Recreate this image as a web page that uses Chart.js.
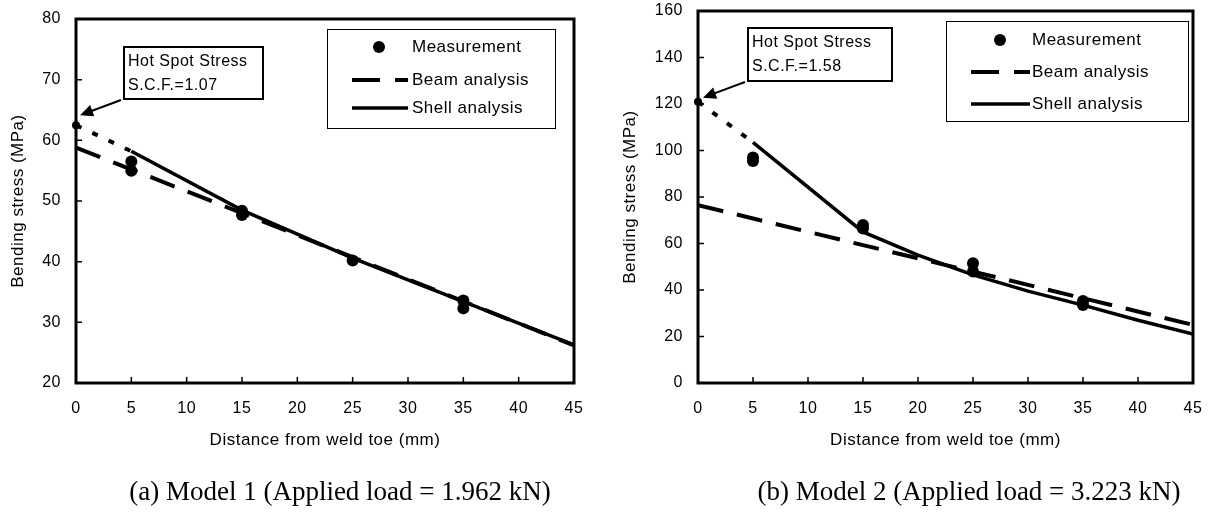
<!DOCTYPE html>
<html>
<head>
<meta charset="utf-8">
<script src="https://cdn.jsdelivr.net/npm/chart.js@4"></script>
<style>
  body { margin: 0; background: #fff; }
  #wrap { position: relative; width: 1210px; height: 515px; }
  .panel { position: absolute; top: 0; width: 605px; height: 515px; }
  .caption {
    position: absolute; top: 476px; white-space: nowrap;
    font-family: "Liberation Serif", serif; font-size: 27px; color: #000;
    transform: translateX(-50%);
  }
</style>
</head>
<body>
<div id="wrap">
  <div class="panel" style="left:0"><canvas id="chartA" width="605" height="515"></canvas></div>
  <div class="panel" style="left:605px"><canvas id="chartB" width="605" height="515"></canvas></div>
  <div class="caption" style="left:340px">(a) Model 1 (Applied load = 1.962 kN)</div>
  <div class="caption" style="left:969px">(b) Model 2 (Applied load = 3.223 kN)</div>
</div>
<script>
// Model 1
const distMeasA = [5, 5, 15, 15, 25, 35, 35];
const stressMeasA = [56.5, 55.0, 48.4, 47.7, 40.2, 33.6, 32.3];
const distBeamA = [0, 15, 30, 45];
const stressBeamA = [58.8, 48.0, 37.1, 26.2];
const distShellA = [5, 15, 25, 35, 45];
const stressShellA = [58.2, 48.5, 40.6, 33.4, 26.3];
const distHotA = [0, 5];
const stressHotA = [62.5, 58.2];

// Model 2
const distMeasB = [5, 5, 15, 15, 25, 25, 35, 35];
const stressMeasB = [97.0, 95.5, 68.0, 66.5, 51.5, 48.0, 35.3, 33.5];
const distBeamB = [0, 15, 30, 45];
const stressBeamB = [76.5, 59.3, 42.2, 25.0];
const distShellB = [5, 15, 20, 25, 30, 35, 40, 45];
const stressShellB = [103.5, 65.0, 55.0, 46.5, 39.5, 33.5, 27.0, 21.0];
const distHotB = [0, 5];
const stressHotB = [121, 103.5];

const legendLabels = ["Measurement", "Beam analysis", "Shell analysis"];
const FONT = '"Liberation Sans", Arial, sans-serif';

function pts(xs, ys) {
  return xs.map((x, i) => ({ x: x, y: ys[i] }));
}

// slightly loose lettering like the original
const spacingPlugin = {
  id: "spacing",
  beforeUpdate(chart) { chart.ctx.letterSpacing = "0.5px"; },
  beforeDraw(chart) { chart.ctx.letterSpacing = "0.5px"; },
};

// frame + inward tick marks
const framePlugin = {
  id: "frame",
  afterDatasetsDraw(chart) {
    const { ctx, chartArea: a, scales: { x, y } } = chart;
    ctx.save();
    ctx.strokeStyle = "#000";
    ctx.lineWidth = 1.5;
    ctx.beginPath();
    x.ticks.forEach((t) => {
      const px = x.getPixelForValue(t.value);
      ctx.moveTo(px, a.bottom);
      ctx.lineTo(px, a.bottom - 6);
    });
    y.ticks.forEach((t) => {
      const py = y.getPixelForValue(t.value);
      ctx.moveTo(a.left, py);
      ctx.lineTo(a.left + 6, py);
    });
    ctx.stroke();
    ctx.lineWidth = 3;
    ctx.strokeRect(a.left, a.top, a.right - a.left, a.bottom - a.top);
    ctx.restore();
  },
};

// legend box and hot spot note
const overlayPlugin = {
  id: "overlay",
  afterDraw(chart, args, o) {
    const { ctx, scales: { x, y } } = chart;
    ctx.save();
    ctx.fillStyle = "#000";
    ctx.strokeStyle = "#000";
    ctx.textBaseline = "middle";

    // legend
    const L = o.legend;
    ctx.font = "17px " + FONT;
    ctx.lineWidth = 1;
    ctx.strokeRect(L.x + 0.5, L.y + 0.5, L.w, L.h);
    ctx.beginPath();
    ctx.arc(L.dotX, L.rows[0], 6, 0, Math.PI * 2);
    ctx.fill();
    ctx.lineWidth = 4;
    ctx.setLineDash([28, 15]);
    ctx.beginPath();
    ctx.moveTo(L.lineX0, L.rows[1]);
    ctx.lineTo(L.lineX1, L.rows[1]);
    ctx.stroke();
    ctx.setLineDash([]);
    ctx.lineWidth = 3.5;
    ctx.beginPath();
    ctx.moveTo(L.lineX0, L.rows[2]);
    ctx.lineTo(L.lineX1, L.rows[2]);
    ctx.stroke();
    legendLabels.forEach((t, i) => ctx.fillText(t, L.textX, L.rows[i]));

    // note box
    const N = o.note;
    ctx.font = "16px " + FONT;
    ctx.lineWidth = 2;
    ctx.strokeRect(N.x, N.y, N.w, N.h);
    ctx.fillText("Hot Spot Stress", N.x + 4, N.y + 15);
    ctx.fillText(N.text, N.x + 4, N.y + 39);

    // arrow to the hot spot value
    const hx = x.getPixelForValue(0) + N.tipDx;
    const hy = y.getPixelForValue(N.hot) + N.tipDy;
    const sx = N.x - 3, sy = N.y + N.h + 1;
    const ang = Math.atan2(hy - sy, hx - sx);
    ctx.lineWidth = 2;
    ctx.beginPath();
    ctx.moveTo(sx, sy);
    ctx.lineTo(hx - 10 * Math.cos(ang), hy - 10 * Math.sin(ang));
    ctx.stroke();
    ctx.beginPath();
    ctx.moveTo(hx, hy);
    ctx.lineTo(hx - 13 * Math.cos(ang) + 6 * Math.sin(ang), hy - 13 * Math.sin(ang) - 6 * Math.cos(ang));
    ctx.lineTo(hx - 13 * Math.cos(ang) - 6 * Math.sin(ang), hy - 13 * Math.sin(ang) + 6 * Math.cos(ang));
    ctx.closePath();
    ctx.fill();
    ctx.restore();
  },
};

function noPad(s) {
  s.paddingTop = 0;
  s.paddingBottom = 0;
  s.paddingLeft = 0;
  s.paddingRight = 0;
}

function makeChart(canvasId, d, yMin, yMax, yStep, area, overlay) {
  const tickFont = { family: FONT, size: 16 };
  const titleFont = { family: FONT, size: 17 };
  const config = {
    type: "scatter",
    data: {
      datasets: [
        {
          label: legendLabels[0],
          data: pts(d.measX, d.measY),
          pointRadius: 6,
          pointBackgroundColor: "#000",
          pointBorderWidth: 0,
          showLine: false,
          clip: false,
        },
        {
          label: "extrapolation",
          data: pts(d.hotX, d.hotY),
          showLine: true,
          borderColor: "#000",
          borderWidth: 4,
          borderDash: [6, 12],
          pointRadius: [4, 0],
          pointBackgroundColor: "#000",
          pointBorderWidth: 0,
          clip: false,
        },
        {
          label: legendLabels[2],
          data: pts(d.shellX, d.shellY),
          showLine: true,
          borderColor: "#000",
          borderWidth: 3.5,
          pointRadius: 0,
        },
        {
          label: legendLabels[1],
          data: pts(d.beamX, d.beamY),
          showLine: true,
          borderColor: "#000",
          borderWidth: 4,
          borderDash: [26, 14],
          pointRadius: 0,
        },
      ],
    },
    options: {
      responsive: false,
      animation: false,
      events: [],
      layout: { padding: { left: 0, right: 605 - area.right, top: area.top, bottom: 0 } },
      plugins: { legend: false, tooltip: false, overlay: overlay },
      scales: {
        x: {
          type: "linear",
          min: 0,
          max: 45,
          grid: { display: false, drawTicks: false },
          border: { display: false },
          ticks: { stepSize: 5, color: "#000", font: tickFont, padding: 16, maxRotation: 0 },
          title: {
            display: true,
            text: "Distance from weld toe (mm)",
            color: "#000",
            font: titleFont,
            padding: { top: 0, bottom: 64 },
          },
          afterFit: (s) => { s.height = 515 - area.bottom; noPad(s); },
        },
        y: {
          min: yMin,
          max: yMax,
          grid: { display: false, drawTicks: false },
          border: { display: false },
          ticks: { stepSize: yStep, color: "#000", font: tickFont, padding: 15 },
          title: {
            display: true,
            text: "Bending stress (MPa)",
            color: "#000",
            font: titleFont,
            padding: { top: area.titlePad, bottom: 0 },
          },
          afterFit: (s) => { s.width = area.left; noPad(s); },
        },
      },
    },
    plugins: [spacingPlugin, framePlugin, overlayPlugin],
  };
  return new Chart(document.getElementById(canvasId), config);
}

makeChart(
  "chartA",
  {
    measX: distMeasA, measY: stressMeasA,
    beamX: distBeamA, beamY: stressBeamA,
    shellX: distShellA, shellY: stressShellA,
    hotX: distHotA, hotY: stressHotA,
  },
  20, 80, 10,
  { left: 76, right: 574, top: 19, bottom: 383, titlePad: 8 },
  {
    legend: { x: 327, y: 29, w: 228, h: 99, dotX: 379, textX: 412, lineX0: 352, lineX1: 408, rows: [47, 80, 108] },
    note: { x: 124, y: 47, w: 139, h: 52, text: "S.C.F.=1.07", hot: stressHotA[0], tipDx: 4, tipDy: -10 },
  }
);

makeChart(
  "chartB",
  {
    measX: distMeasB, measY: stressMeasB,
    beamX: distBeamB, beamY: stressBeamB,
    shellX: distShellB, shellY: stressShellB,
    hotX: distHotB, hotY: stressHotB,
  },
  0, 160, 20,
  { left: 93, right: 588, top: 11, bottom: 383, titlePad: 15 },
  {
    legend: { x: 341, y: 21, w: 242, h: 100, dotX: 395, textX: 427, lineX0: 366, lineX1: 425, rows: [40, 72, 104] },
    note: { x: 143, y: 28, w: 144, h: 53, text: "S.C.F.=1.58", hot: stressHotB[0], tipDx: 5, tipDy: -4 },
  }
);
</script>
</body>
</html>
